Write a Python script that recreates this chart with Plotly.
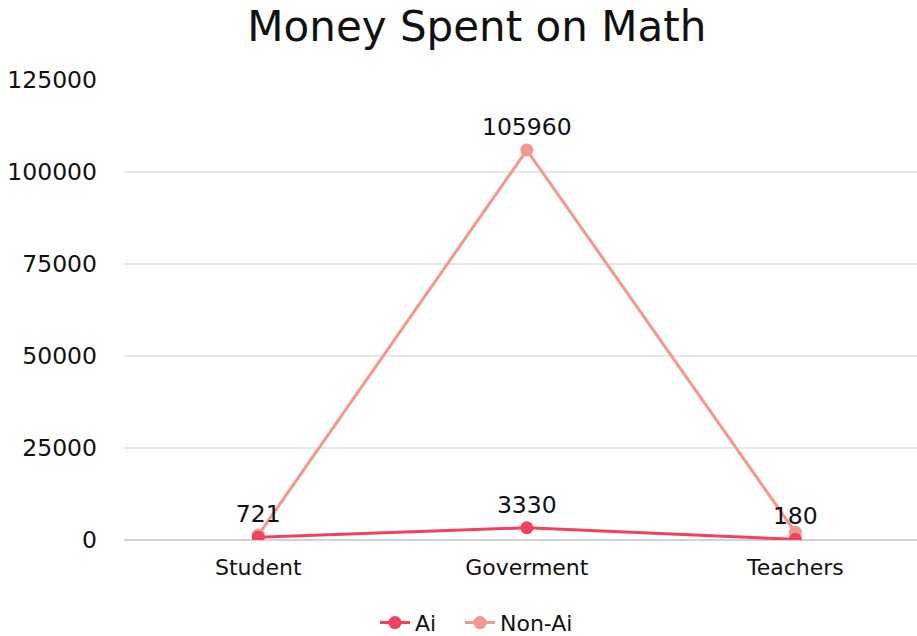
import plotly.graph_objects as go

categories = ["Student", "Goverment", "Teachers"]
ai_values = [721, 3330, 180]
non_ai_values = [1350, 105960, 2100]
ai_labels = ["721", "3330", "180"]
non_ai_labels = ["", "105960", ""]
y_ticks = [0, 25000, 50000, 75000, 100000, 125000]

fig = go.Figure()
fig.add_trace(go.Scatter(
    x=categories, y=non_ai_values, name="Non-Ai", mode="lines+markers+text",
    legend="legend2",
    text=non_ai_labels, textposition="top center",
    textfont=dict(size=23.5, color="#111111"),
    line=dict(color="#f4978e", width=3), marker=dict(size=13, color="#f4978e"),
))
fig.add_trace(go.Scatter(
    x=categories, y=ai_values, name="Ai", mode="lines+markers+text",
    legend="legend",
    text=ai_labels, textposition="top center",
    textfont=dict(size=23.5, color="#111111"),
    line=dict(color="#f43f5e", width=3), marker=dict(size=13, color="#f43f5e"),
))

leg_common = dict(orientation="h", xanchor="left", y=-0.18, yanchor="middle",
                  font=dict(size=22), itemwidth=30, bgcolor="rgba(0,0,0,0)")

fig.update_layout(
    width=917, height=636,
    margin=dict(l=124, r=0, t=80, b=96, autoexpand=False),
    paper_bgcolor="white", plot_bgcolor="white",
    font=dict(family="DejaVu Sans", size=22, color="#111111"),
    title=dict(text="Money Spent on Math", x=0.52, xanchor="center", y=0.958, yanchor="middle",
               font=dict(size=42, color="#111111")),
    xaxis=dict(range=[-0.5, 2.453], showgrid=False, showline=False, ticks="",
               tickfont=dict(size=22), ticklabelstandoff=12),
    yaxis=dict(range=[0, 125000], tickvals=y_ticks, tickformat="d", showgrid=True,
               gridcolor="#e5e7eb", gridwidth=1.5, zeroline=True, zerolinecolor="#cbd5e1",
               zerolinewidth=1.5, ticks="", ticklabelstandoff=26, tickfont=dict(size=23.5)),
    legend=dict(x=0.3165, **leg_common),
    legend2=dict(x=0.4237, **leg_common),
    showlegend=True,
)

fig.write_html("out.html", config={"displayModeBar": False},
               post_script="document.body.style.margin='0';document.body.style.overflow='hidden';")
